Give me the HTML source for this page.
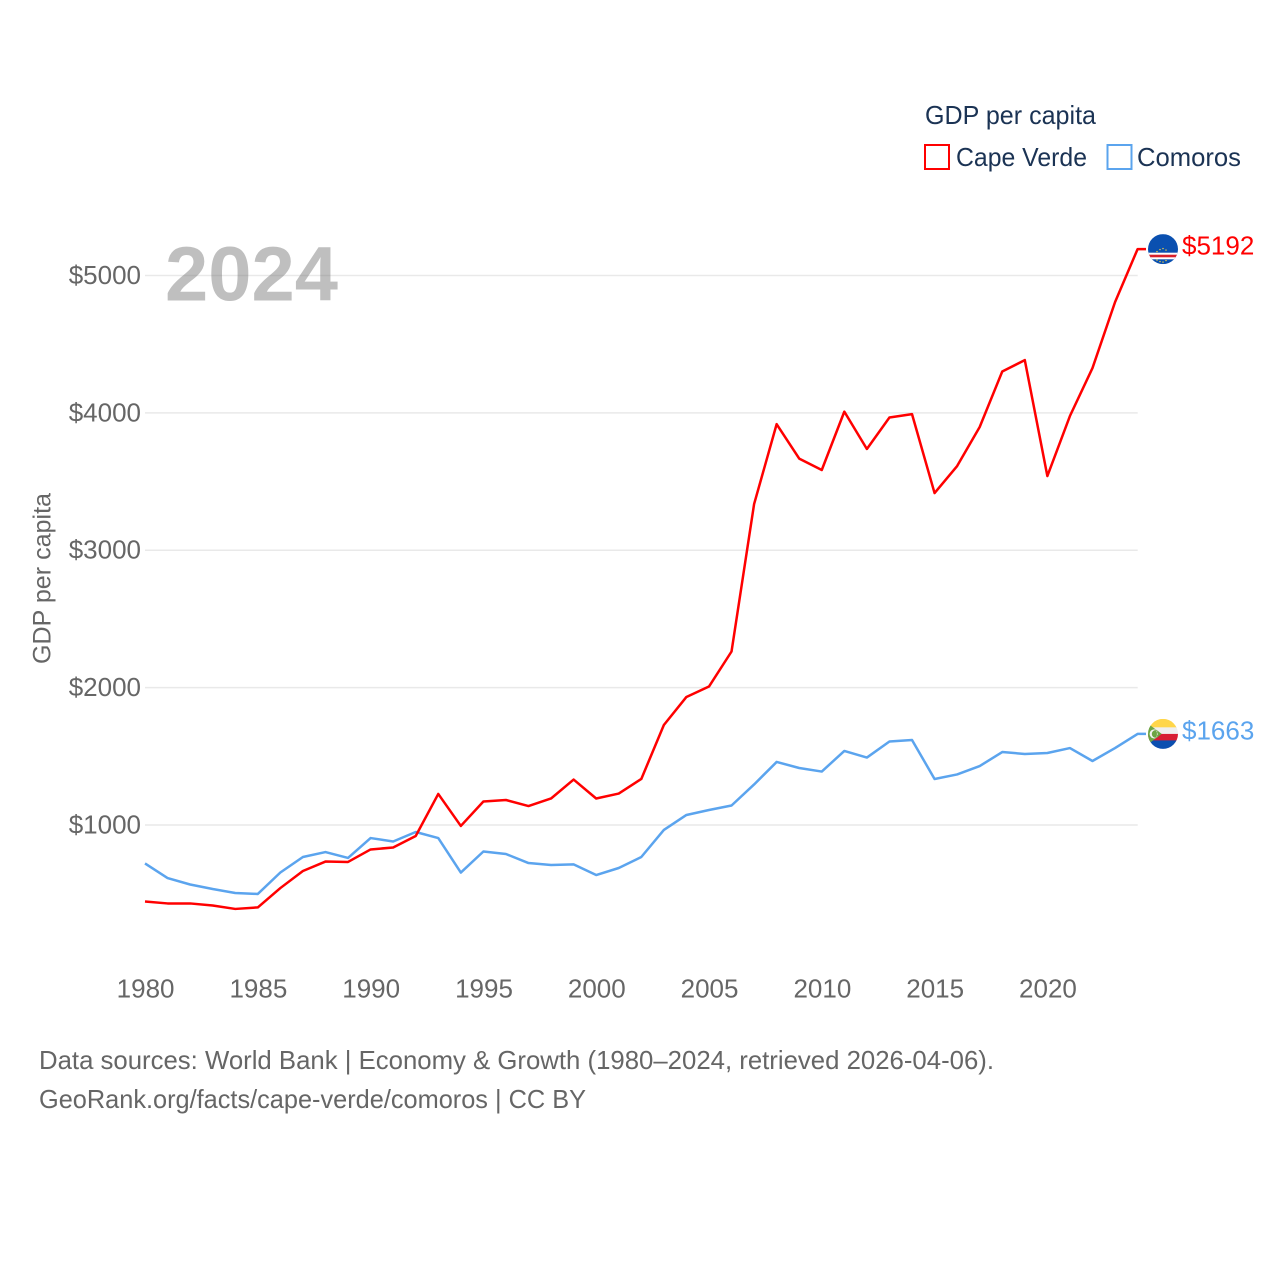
<!DOCTYPE html>
<html lang="en">
<head>
<meta charset="utf-8">
<title>GDP per capita: Cape Verde and Comoros</title>
<style>
html,body{margin:0;padding:0;background:#fff;}
svg{display:block;}
text{font-family:"Liberation Sans",sans-serif;}
</style>
</head>
<body>
<svg id="chart" width="1280" height="1280" viewBox="0 0 1280 1280" xmlns="http://www.w3.org/2000/svg">
  <defs>
    <clipPath id="flag-clip"><circle cx="0" cy="0" r="15"/></clipPath>
  </defs>
  <text x="165" y="300.5" font-size="77" font-weight="700" fill="#bfbfbf" textLength="173" lengthAdjust="spacingAndGlyphs">2024</text>
  <g id="grid"></g>
  <g id="y-ticks"></g>
  <g id="x-ticks"></g>
  <text transform="translate(50.5,664) rotate(-90)" font-size="25" fill="#666666" textLength="171" lengthAdjust="spacingAndGlyphs">GDP per capita</text>
  <g id="series"></g>

  <g id="flag-cv" clip-path="url(#flag-clip)">
    <rect x="-15" y="-15" width="30" height="30" fill="#0a50b0"/>
    <rect x="-15" y="3.6" width="30" height="6.6" fill="#ffffff"/>
    <rect x="-15" y="5.6" width="30" height="2.6" fill="#d8202c"/>
    <g fill="#f0d040">
      <circle cx="-6" cy="2.5" r="0.7"/><circle cx="-3" cy="0.5" r="0.7"/><circle cx="0" cy="-0.5" r="0.7"/><circle cx="3" cy="1" r="0.7"/>
      <circle cx="-6" cy="11" r="0.7"/><circle cx="-3" cy="12.5" r="0.7"/><circle cx="0" cy="13" r="0.7"/><circle cx="3" cy="11.5" r="0.7"/>
    </g>
  </g>
  <g id="flag-km" clip-path="url(#flag-clip)">
    <rect x="-15" y="-15" width="30" height="8.6" fill="#ffd64a"/>
    <rect x="-15" y="-6.6" width="30" height="6.8" fill="#efefef"/>
    <rect x="-15" y="0" width="30" height="6.8" fill="#d81e34"/>
    <rect x="-15" y="6.5" width="30" height="8.7" fill="#0b4fb0"/>
    <polygon points="-1.3,0 -21,-14.8 -21,14.8" fill="#6da544"/>
    <circle cx="-8.8" cy="0" r="4.6" fill="#f2f2f2"/>
    <circle cx="-7.4" cy="0" r="3.8" fill="#6da544"/>
    <circle cx="-6.2" cy="-2.2" r="0.5" fill="#f2f2f2"/>
    <circle cx="-5.7" cy="-0.7" r="0.5" fill="#f2f2f2"/>
    <circle cx="-5.7" cy="0.7" r="0.5" fill="#f2f2f2"/>
    <circle cx="-6.2" cy="2.2" r="0.5" fill="#f2f2f2"/>
  </g>
  <g id="end-labels"></g>

  <g>
    <text x="925" y="124" font-size="26" fill="#1b3354" textLength="171" lengthAdjust="spacingAndGlyphs">GDP per capita</text>
    <g>
      <rect x="925" y="145" width="24" height="24" fill="none" stroke="#ff0000" stroke-width="2"/>
      <text x="956" y="166" font-size="26" fill="#1b3354" textLength="131" lengthAdjust="spacingAndGlyphs">Cape Verde</text>
    </g>
    <g>
      <rect x="1107.5" y="145" width="24" height="24" fill="none" stroke="#5ba4ee" stroke-width="2"/>
      <text x="1137" y="166" font-size="26" fill="#1b3354" textLength="104" lengthAdjust="spacingAndGlyphs">Comoros</text>
    </g>
  </g>

  <text x="39" y="1069" font-size="26" fill="#666666" textLength="955" lengthAdjust="spacingAndGlyphs">Data sources: World Bank | Economy &amp; Growth (1980–2024, retrieved 2026-04-06).</text>
  <text x="39" y="1108" font-size="26" fill="#666666" textLength="547" lengthAdjust="spacingAndGlyphs">GeoRank.org/facts/cape-verde/comoros | CC BY</text>
</svg>
<script>
const firstYear = 1980;
const capeVerde = [443,429,429,414,389,400,541,665,734,731,822,836,920,1226,993,1171,1182,1138,1193,1331,1193,1229,1335,1728,1932,2008,2263,3336,3918,3667,3584,4009,3737,3966,3991,3416,3613,3897,4301,4384,3540,3977,4326,4806,5192];
const comoros = [720,614,567,534,505,498,654,767,803,760,905,880,949,905,654,807,789,723,709,713,636,687,767,964,1073,1109,1142,1295,1459,1415,1389,1539,1491,1608,1619,1335,1368,1429,1531,1517,1524,1560,1466,1560,1663];
const yTicks = [1000,2000,3000,4000,5000];
const xTicks = [1980,1985,1990,1995,2000,2005,2010,2015,2020];

const NS = 'http://www.w3.org/2000/svg';
function xScale(year){ return 145 + (year - 1980) * (992.6 / 44); }
function yScale(v){ return 825 - (v - 1000) * 0.13738; }

const gridG = document.getElementById('grid');
const yG = document.getElementById('y-ticks');
const xG = document.getElementById('x-ticks');
const seriesG = document.getElementById('series');
const labelG = document.getElementById('end-labels');

yTicks.forEach(function(t){
  const line = document.createElementNS(NS,'line');
  
  
  line.setAttribute('x1', 145);
  line.setAttribute('x2', 1137.7);
  line.setAttribute('y1', yScale(t));
  line.setAttribute('y2', yScale(t));
  line.setAttribute('stroke', 'rgba(120,120,120,0.16)');
  line.setAttribute('stroke-width', '1.5');
  gridG.appendChild(line);

  const label = document.createElementNS(NS,'text');
  
  
  label.setAttribute('x', 141);
  label.setAttribute('y', yScale(t) + 8.5);
  label.setAttribute('text-anchor', 'end');
  label.setAttribute('font-size', '26');
  label.setAttribute('fill', '#666666');
  label.textContent = '$' + t;
  yG.appendChild(label);
});

xTicks.forEach(function(t){
  const label = document.createElementNS(NS,'text');
  
  
  label.setAttribute('x', xScale(t) + 0.6);
  label.setAttribute('y', 997.5);
  label.setAttribute('text-anchor', 'middle');
  label.setAttribute('font-size', '26');
  label.setAttribute('fill', '#666666');
  label.textContent = String(t);
  xG.appendChild(label);
});

function drawLine(values, color, name){
  const pts = values.map(function(v, i){ return xScale(firstYear + i).toFixed(2) + ',' + yScale(v).toFixed(2); });
  const lastY = yScale(values[values.length - 1]);
  pts.push('1146,' + lastY.toFixed(2));
  const poly = document.createElementNS(NS,'polyline');
  
  
  poly.setAttribute('points', pts.join(' '));
  poly.setAttribute('fill', 'none');
  poly.setAttribute('stroke', color);
  poly.setAttribute('stroke-width', '2.5');
  poly.setAttribute('stroke-linejoin', 'round');
  seriesG.appendChild(poly);
}
drawLine(comoros, '#5ba4ee', 'comoros-line');
drawLine(capeVerde, '#ff0000', 'cape-verde-line');

function drawEnd(values, color, flagId, name){
  const v = values[values.length - 1];
  const y = yScale(v);
  document.getElementById(flagId).setAttribute('transform', 'translate(1163,' + y.toFixed(2) + ')');
  const label = document.createElementNS(NS,'text');
  
  
  label.setAttribute('x', 1182);
  label.setAttribute('y', y + 5.5);
  label.setAttribute('font-size', '26');
  label.setAttribute('fill', color);
  label.textContent = '$' + v;
  labelG.appendChild(label);
}
drawEnd(capeVerde, '#ff0000', 'flag-cv', 'cape-verde-value-label');
drawEnd(comoros, '#5ba4ee', 'flag-km', 'comoros-value-label');
</script>
</body>
</html>
